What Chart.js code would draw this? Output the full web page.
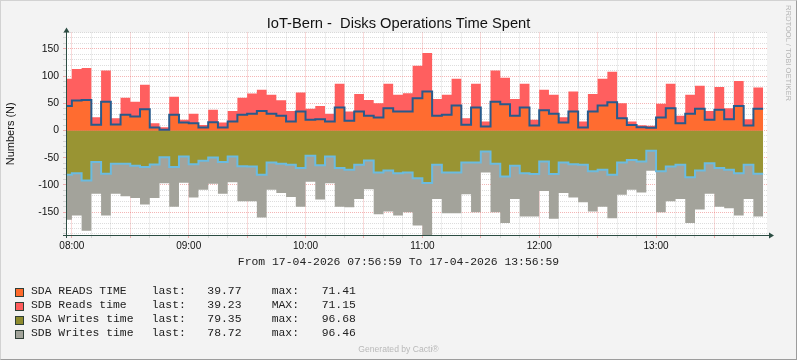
<!DOCTYPE html>
<html>
<head>
<meta charset="utf-8">
<script src="https://cdn.jsdelivr.net/npm/chart.js@4.4.1/dist/chart.umd.min.js"></script>
<style>
  body { margin: 0; background: #f3f3f3; }
  #wrap { position: relative; width: 797px; height: 360px; background: #f3f3f3; overflow: hidden; }
  #frame { position: absolute; left: 0; top: 0; width: 797px; height: 360px; box-sizing: border-box;
           border: 1px solid; border-color: #d2d2d2 #9c9c9c #9c9c9c #d2d2d2; pointer-events: none; }
  .t { position: absolute; white-space: pre; line-height: 14px; }
  .mono { font: 11.4px "Liberation Mono", monospace; color: #222; }
  #title { left: 0; width: 797px; top: 14px; text-align: center; font: 14.7px "Liberation Sans", sans-serif; color: #111; line-height: 18px; }
  #range { left: 0; width: 797px; top: 256px; text-align: center; }
  #gen { left: 0; width: 797px; top: 343.5px; text-align: center; font: 8.6px "Liberation Sans", sans-serif; color: #b9b9b9; }
  #wm { left: 784px; top: 5px; writing-mode: vertical-rl; font: 7.6px "Liberation Sans", sans-serif; color: #b5b5b5; line-height: 9px; }
  .box { position: absolute; width: 9px; height: 9px; box-sizing: border-box; border: 1px solid #2e3e36; }
</style>
</head>
<body>
<div id="wrap">
  <canvas id="chart" width="797" height="360" style="position:absolute;left:0;top:0"></canvas>
  <div class="t" id="title">IoT-Bern -  Disks Operations Time Spent</div>
  <div class="t mono" id="range">From 17-04-2026 07:56:59 To 17-04-2026 13:56:59</div>
  <div id="legend"></div>
  <div class="t" id="gen">Generated by Cacti®</div>
  <div class="t" id="wm">RRDTOOL / TOBI OETIKER</div>
  <div id="frame"></div>
</div>
<script>
// time window in minutes since midnight (07:56:59 -> 13:56:59)
const startMin = 7 * 60 + 56 + 59 / 60;
const endMin = 13 * 60 + 56 + 59 / 60;

// 5 minute rrd rows, each value closes its step; first row ends at 08:00
const sdaReads = [45, 55, 56, 10.4, 52.7, 11, 28.8, 25.7, 39, 5.5, 1.2, 28.8, 14.7, 13.5, 5.5, 15.3, 5.5, 16.5,
  28.8, 30.6, 36, 30.6, 27, 16.5, 35, 19.6, 20.8, 16.5, 42, 17.8, 35, 27, 24, 41, 35, 35, 59, 71.41,
  27, 28.8, 46, 10.4, 42, 7.3, 53, 48, 27, 42, 9.2, 37, 30.6, 14.7, 35, 5.5, 35, 46, 52, 22.7,
  10, 6, 5, 24, 41, 13.5, 30.6, 40, 19.6, 38, 20.8, 45, 9.2, 39.77];
const sdbReads = [50, 58, 59, 14.1, 57.3, 11.7, 31.2, 27, 45, 8, 4.8, 33.2, 4.9, 17.1, 4.5, 22.7, 9.2, 19.5,
  31.2, 37.4, 39, 34.9, 28.7, 19.5, 35, 20.4, 24.2, 14.1, 44, 17.2, 32, 29, 26, 45, 30.5, 33.6, 60, 71.15,
  31, 36.7, 49, 12.3, 44, 9.2, 57, 49, 31, 44, 10.4, 38, 34.9, 9.8, 36.6, 11, 32, 49, 56, 27.3,
  6.5, 3.6, 3.6, 25, 45, 13.5, 34.9, 42, 16.4, 42, 20.2, 46, 11.6, 39.23];
const sdaWrites = [81.4, 78.4, 92, 58, 79.6, 61, 61, 65, 67, 62.5, 49, 67, 47.8, 62, 55.7, 49.6, 58, 47.8,
  65.5, 66, 81.4, 58.8, 61, 63, 69, 46.5, 64, 47.8, 69, 72, 63, 55, 77, 73.5, 78.4, 77, 87.6, 96.68,
  63, 77, 77, 58.8, 58.8, 38.6, 61, 84.5, 65, 78.4, 80, 57, 80, 58.8, 62, 63, 75, 72, 81.4, 58.8,
  54, 57, 37, 75, 66, 63, 86, 73.5, 60, 69, 72, 78.4, 63, 79.35];
const sdbWrites = [82.6, 77.6, 92, 58, 76.4, 55, 60, 59, 69, 61.5, 48, 73, 48.2, 61, 53.3, 48.4, 58, 47.2,
  64.5, 64, 78.6, 50.2, 54, 59, 71, 47.5, 63, 49.2, 71, 69, 63, 53, 77, 75.5, 77.6, 73, 86.9, 96.46,
  63, 75, 75, 58.2, 91.2, 38.4, 89, 85.5, 61, 79.6, 78, 54, 82, 56.2, 61, 69, 74, 68, 79.6, 59.2,
  55, 57, 37, 75, 64, 63, 84, 71.5, 56, 71, 71, 77.6, 63, 78.72];

const hourLabels = ['08:00', '09:00', '10:00', '11:00', '12:00', '13:00'];

// step end times: 08:00, 08:05, ...
const stepEnds = sdaReads.map((v, i) => 480 + 5 * i);

function toPoints(vals) {
  const pts = [{ x: startMin, y: vals[0] }];
  vals.forEach((v, i) => pts.push({ x: stepEnds[i], y: v }));
  return pts;
}

const readsTop = sdaReads.map((v, i) => v + sdbReads[i]);
const writesSda = sdaWrites.map(v => -v);
const writesBottom = sdaWrites.map((v, i) => -(v + sdbWrites[i]));

const gridMinor = 'rgba(128,128,128,0.27)';
const gridMajor = 'rgba(225,60,60,0.38)';
const axisColor = '#2c4d43';

// white canvas under the plot, rrdtool style axes with arrows on top
const rrdFrame = {
  id: 'rrdFrame',
  beforeDraw(chart) {
    const a = chart.chartArea, ctx = chart.ctx;
    ctx.save();
    ctx.fillStyle = '#ffffff';
    ctx.fillRect(a.left, a.top, a.right - a.left, a.bottom - a.top);
    ctx.restore();
  },
  afterDraw(chart) {
    const a = chart.chartArea, ctx = chart.ctx;
    const x0 = Math.round(a.left) + 0.5, y0 = Math.round(a.bottom) + 0.5;
    ctx.save();
    ctx.strokeStyle = axisColor;
    ctx.fillStyle = axisColor;
    ctx.lineWidth = 1;
    ctx.beginPath();
    ctx.moveTo(a.left - 3, y0); ctx.lineTo(a.right + 4, y0);
    ctx.moveTo(x0, a.bottom + 3); ctx.lineTo(x0, a.top - 2);
    ctx.stroke();
    // arrows
    ctx.beginPath();
    ctx.moveTo(a.right + 7, y0); ctx.lineTo(a.right + 2, y0 - 3); ctx.lineTo(a.right + 2, y0 + 3); ctx.closePath();
    ctx.moveTo(x0, a.top - 5); ctx.lineTo(x0 - 3, a.top); ctx.lineTo(x0 + 3, a.top); ctx.closePath();
    ctx.fill();
    ctx.restore();
  }
};

Chart.defaults.font.family = '"Liberation Sans", sans-serif';

const common = { stepped: 'after', pointRadius: 0, pointHoverRadius: 0, tension: 0 };

new Chart(document.getElementById('chart'), {
  type: 'line',
  data: {
    datasets: [
      Object.assign({ label: 'SDA reads', data: toPoints(sdaReads), borderColor: '#285a8c', borderWidth: 2, fill: false }, common),
      Object.assign({ label: 'SDA writes', data: toPoints(writesSda), borderColor: '#6bbbe0', borderWidth: 2, fill: false }, common),
      Object.assign({ label: 'SDA READS TIME', data: toPoints(sdaReads), borderWidth: 0, borderColor: 'rgba(0,0,0,0)', backgroundColor: '#ff6c30', fill: 'origin' }, common),
      Object.assign({ label: 'SDA Writes time', data: toPoints(writesSda), borderWidth: 0, borderColor: 'rgba(0,0,0,0)', backgroundColor: '#999433', fill: 'origin' }, common),
      Object.assign({ label: 'SDB Reads time', data: toPoints(readsTop), borderWidth: 0, borderColor: 'rgba(0,0,0,0)', backgroundColor: '#ff5f5f', fill: 'origin' }, common),
      Object.assign({ label: 'SDB Writes time', data: toPoints(writesBottom), borderWidth: 0, borderColor: 'rgba(0,0,0,0)', backgroundColor: '#a3a39b', fill: 'origin' }, common)
    ]
  },
  options: {
    responsive: false,
    animation: false,
    devicePixelRatio: 1,
    layout: { padding: { top: 32.5, right: 30, left: 0, bottom: 0 } },
    plugins: { legend: { display: false }, tooltip: { enabled: false }, title: { display: false } },
    scales: {
      x: {
        type: 'linear',
        min: startMin,
        max: endMin,
        z: 1,
        afterBuildTicks: s => {
          s.ticks = [];
          for (let m = 480; m < endMin; m += 10) s.ticks.push({ value: m });
        },
        afterFit: s => { s.height = 125; },
        ticks: {
          autoSkip: false, maxRotation: 0, padding: 2, color: '#111',
          font: { size: 10 },
          callback: v => (v % 60 === 0 ? hourLabels[(v - 480) / 60] : '')
        },
        grid: {
          color: ctx => (ctx.tick && ctx.tick.value % 30 === 0 ? gridMajor : gridMinor),
          tickLength: 3, lineWidth: 1
        },
        border: { display: false, dash: [1, 1] }
      },
      y: {
        min: -192,
        max: 180,
        z: 1,
        afterBuildTicks: s => {
          s.ticks = [];
          for (let v = -190; v <= 180; v += 10) s.ticks.push({ value: v });
        },
        afterFit: s => { s.width = 66; },
        ticks: {
          autoSkip: false, padding: 4, color: '#111',
          font: { size: 10.4 },
          callback: v => (v % 50 === 0 ? String(v) : '')
        },
        title: { display: true, text: 'Numbers (N)', color: '#111', font: { size: 11 }, padding: { top: 4, bottom: 4 } },
        grid: {
          color: ctx => (ctx.tick && ctx.tick.value % 50 === 0 ? gridMajor : gridMinor),
          tickLength: 3, lineWidth: 1
        },
        border: { display: false, dash: [1, 1] }
      }
    }
  },
  plugins: [rrdFrame]
});

// legend rows (last / max taken from the series)
const legendRows = [
  { name: 'SDA READS TIME', maxWord: 'max:', vals: sdaReads, color: '#ff6a2b' },
  { name: 'SDB Reads time', maxWord: 'MAX:', vals: sdbReads, color: '#ff5c5c' },
  { name: 'SDA Writes time', maxWord: 'max:', vals: sdaWrites, color: '#8e8b2e' },
  { name: 'SDB Writes time', maxWord: 'max:', vals: sdbWrites, color: '#a2a39a' }
];
const legendEl = document.getElementById('legend');
legendRows.forEach((r, i) => {
  const top = 284.5 + i * 14;
  const cells = [
    [31, r.name],
    [151.7, 'last:'],
    [207.3, r.vals[r.vals.length - 1].toFixed(2)],
    [271.7, r.maxWord],
    [321.7, Math.max(...r.vals).toFixed(2)]
  ];
  const box = document.createElement('div');
  box.className = 'box';
  box.style.left = '15px';
  box.style.top = (top + 3) + 'px';
  box.style.background = r.color;
  legendEl.appendChild(box);
  cells.forEach(c => {
    const d = document.createElement('div');
    d.className = 't mono';
    d.style.left = c[0] + 'px';
    d.style.top = top + 'px';
    d.textContent = c[1];
    legendEl.appendChild(d);
  });
});
</script>
</body>
</html>
